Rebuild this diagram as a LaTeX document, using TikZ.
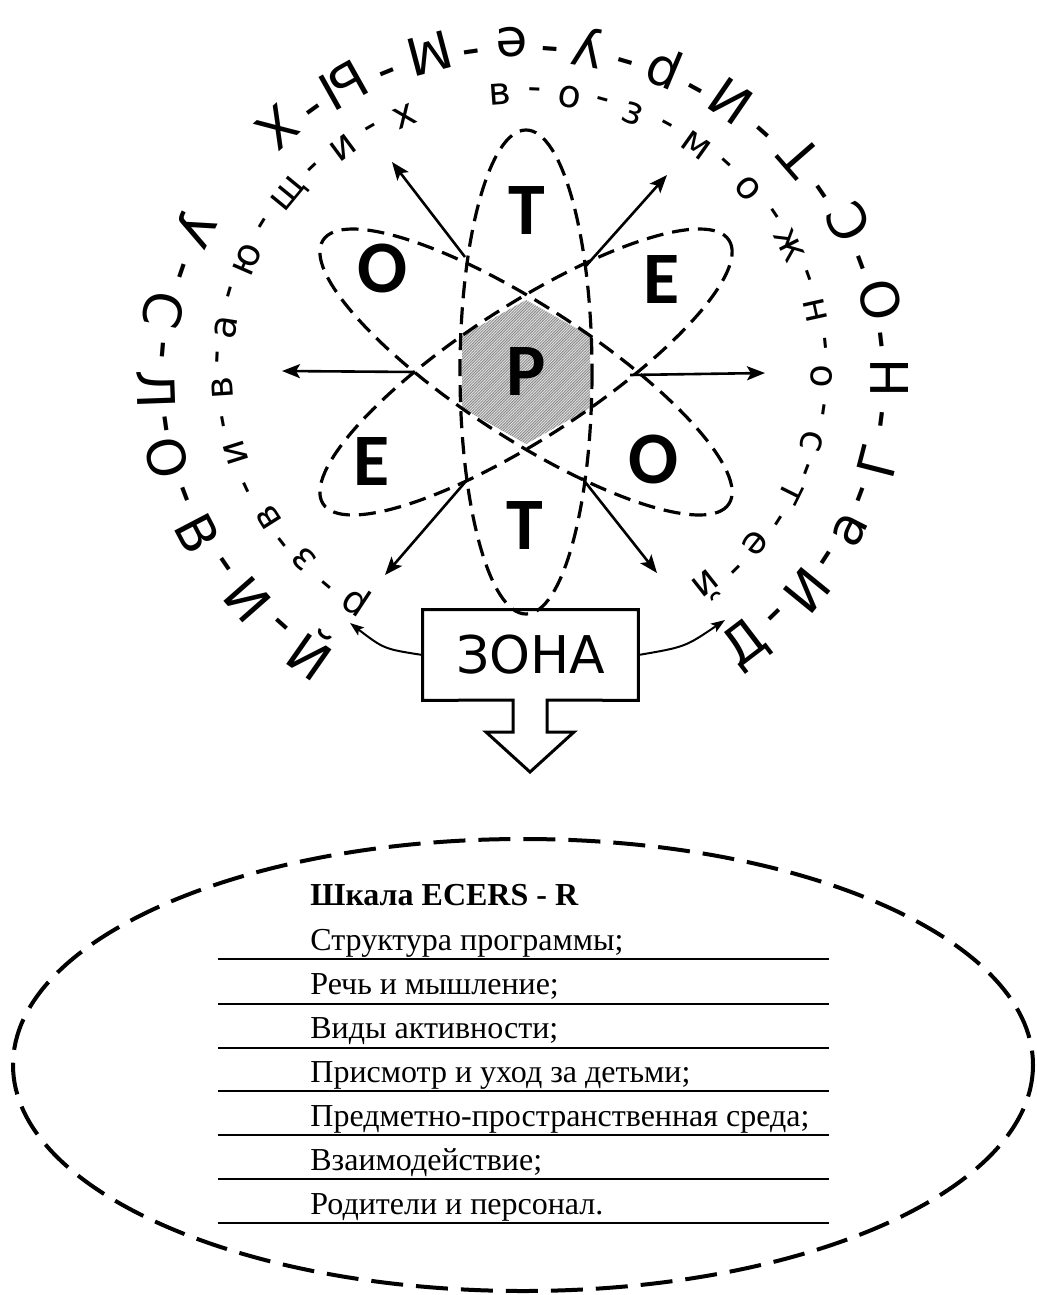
\documentclass[tikz,border=0pt]{standalone}
\usepackage{fontspec}
\setmainfont{Liberation Serif}
\newfontfamily\ringfont{DejaVu Sans}
\newfontfamily\bigfont{Carlito}
\usetikzlibrary{arrows.meta,patterns,calc}
\pgfdeclarepatternformonly{finehatch}{\pgfqpoint{-0.5pt}{-0.5pt}}{\pgfqpoint{2pt}{2pt}}{\pgfqpoint{1.4pt}{1.4pt}}{%
  \pgfsetlinewidth{0.4pt}%
  \pgfpathqmoveto{-0.1pt}{-0.1pt}%
  \pgfpathqlineto{1.5pt}{1.5pt}%
  \pgfusepath{stroke}}
\begin{document}
\begin{tikzpicture}[x=0.5pt,y=-0.5pt,
  outerltr/.style={font=\ringfont\fontsize{26}{30}\selectfont, inner sep=0pt},
  innerltr/.style={font=\ringfont\fontsize{19}{22}\selectfont, inner sep=0pt},
  bigltr/.style={font=\bigfont\bfseries\fontsize{37}{40}\selectfont, inner sep=0pt},
  orbit/.style={draw, line width=1.6pt, dash pattern=on 8.5pt off 4.5pt},
  ray/.style={line width=1.3pt, -{Stealth[length=9pt,width=7pt,inset=2pt]}},
  curv/.style={line width=1pt, -{Stealth[length=7pt,width=5pt,inset=1.5pt]}},
  boxline/.style={line width=1.5pt, line join=miter},
  zonatext/.style={font=\ringfont\fontsize{26}{30}\selectfont, inner sep=0pt, minimum width=107.5pt, minimum height=45pt},
  bigoval/.style={draw, line width=2pt, dash pattern=on 16pt off 6.5pt},
  rulestyle/.style={line width=1pt},
  tabtext/.style={font=\fontsize{16}{19}\selectfont, inner sep=0pt, anchor=base west}
]
\useasboundingbox (0,0) rectangle (1037,1295);

% nucleus hexagon
\coordinate (c) at (526,372);
\fill[gray!22] (526,300) -- (590,336) -- (590,408) -- (526,444) -- (462,408) -- (462,336) -- cycle;
\fill[pattern=finehatch, pattern color=black!45] (526,300) -- (590,336) -- (590,408) -- (526,444) -- (462,408) -- (462,336) -- cycle;

% orbits
\draw[orbit] (c) ellipse [x radius=66, y radius=242];
\draw[orbit, rotate around={33:(c)}] (c) ellipse [x radius=242, y radius=66];
\draw[orbit, rotate around={-33:(c)}] (c) ellipse [x radius=242, y radius=66];

% big letters
\node[bigltr] (P) at (526,372) {Р};
\node[bigltr] (T1) at (527,211) {Т};
\node[bigltr] (T2) at (525,526) {Т};
\node[bigltr] (E1) at (662,280) {Е};
\node[bigltr] (E2) at (372,462) {Е};
\node[bigltr] (O1) at (383,268) {О};
\node[bigltr] (O2) at (654,459) {О};

% rays
\coordinate (p1) at (465,257); \coordinate (e1) at (392,162);
\coordinate (p2) at (585,267); \coordinate (e2) at (667,175);
\coordinate (p3) at (415,372); \coordinate (e3) at (282,371);
\coordinate (p4) at (630,375); \coordinate (e4) at (765,373);
\coordinate (p5) at (467,480); \coordinate (e5) at (385,575);
\coordinate (p6) at (582,478); \coordinate (e6) at (657,573);
\foreach \k in {1,...,6} {\draw[ray] (p\k) -- (e\k);}

% outer ring
\foreach \t/\ch [count=\i] in {-52.7/Д,-39.2/И,-26.9/а,-14.4/Г,0/Н,13.4/О,27.6/С,41.1/Т,55.6/И,67.3/р,79.8/у,91.7/е,104.8/М,119.3/Ы,131.9/Х,153.7/У,168.4/С,182/Л,193.8/О,207.6/В,221.3/И,235/Й}
  {\node[outerltr, rotate=\t+90] (o\i) at ({523+367*cos(\t)},{378-336*sin(\t)}) {\ch};}
\foreach \t [count=\i] in {-45.95,-33.05,-20.65,-7.2,6.7,20.5,34.35,48.35,61.45,73.55,85.75,98.25,112.05,125.6,161.05,175.2,187.9,200.7,214.45,228.15}
  {\node[outerltr, rotate=\t+90] (od\i) at ({523+367*cos(\t)},{378-336*sin(\t)}) {-};}

% inner ring
\foreach \t/\ch [count=\i] in {236.6/р,223.4/з,212.3/в,197.5/и,183.7/в,171.1/а,156.5/ю,140.6/щ,126.5/и,113.1/х,94.2/в,80.9/о,68.3/з,54.6/м,41/о,26.8/ж,12.4/н,-1.4/о,-15/с,-26.4/т,-38.9/е,-51.7/й}
  {\node[innerltr, rotate=\t-90] (n\i) at ({522+300*cos(\t)},{370-276*sin(\t)}) {\ch};}
\foreach \t [count=\i] in {230,217.85,204.9,190.6,177.4,163.8,148.55,133.55,119.8,87.55,74.6,61.45,47.8,33.9,19.6,5.5,-8.2,-20.7,-32.65,-45.3}
  {\node[innerltr, rotate=\t-90] (nd\i) at ({522+300*cos(\t)},{370-276*sin(\t)}) {-};}

% ZONA box with block arrow
\node[zonatext] (zona) at (530.5,655) {ЗОНА};
\draw[boxline] (zona.north west) -- (zona.north east) -- (zona.south east) -- (547,700) -- (547,732) -- (574,732) -- (530,772) -- (486,732) -- (513,732) -- (513,700) -- (zona.south west) -- cycle;
\coordinate (lend) at (350,623);
\coordinate (rend) at (725,620);
\draw[curv] (zona.west) .. controls (384,649) .. (lend);
\draw[curv] (zona.east) .. controls (685,647) .. (rend);

% bottom oval with table
\draw[bigoval] (523,1065) ellipse [x radius=510, y radius=226];
\node[tabtext, font=\fontsize{16}{19}\selectfont\bfseries] (h) at (310,905) {Шкала ECERS - R};
\node[tabtext] (r1) at (310,950) {Структура программы;};
\node[tabtext] (r2) at (310,994) {Речь и мышление;};
\node[tabtext] (r3) at (310,1038) {Виды активности;};
\node[tabtext] (r4) at (310,1082) {Присмотр и уход за детьми;};
\node[tabtext] (r5) at (310,1126) {Предметно-пространственная среда;};
\node[tabtext] (r6) at (310,1170) {Взаимодействие;};
\node[tabtext] (r7) at (310,1214) {Родители и персонал.};
\foreach \yy in {959,1004,1048,1091,1135,1179,1223}
  {\draw[rulestyle] (218,\yy) -- (829,\yy);}
\end{tikzpicture}
\end{document}
